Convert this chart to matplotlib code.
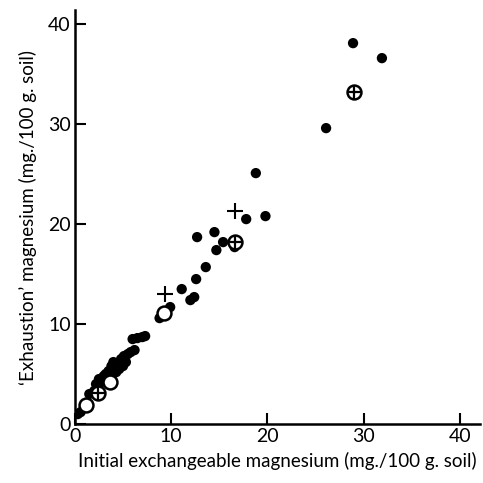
import numpy as np
import matplotlib.pyplot as plt

plt.rcParams['font.family'] = ['Lato', 'DejaVu Sans']

# filled dots (initial, exhaustion)
dot_x = [0.3, 0.6, 1.5, 2.0, 2.2, 2.5, 2.8, 3.0, 3.2, 3.5, 3.6, 3.8, 4.0, 4.2, 4.3,
         4.5, 4.8, 5.0, 5.3, 5.5, 5.8, 6.0, 6.5, 7.0, 7.3, 3.3, 4.6, 5.1, 6.2,
         8.8, 9.9, 11.1, 12.0, 12.4,
         12.6, 12.7, 13.6, 14.5, 14.7, 15.4, 16.6, 17.8, 18.8, 19.8, 26.1, 28.9, 31.9]
dot_y = [1.0, 1.2, 3.0, 3.3, 4.0, 4.5, 4.2, 4.8, 5.0, 5.3, 4.6, 5.8, 6.2, 5.6, 5.2,
         6.0, 6.5, 5.8, 6.2, 7.0, 7.2, 8.5, 8.6, 8.7, 8.8, 4.3, 5.5, 6.8, 7.4,
         10.6, 11.7, 13.5, 12.4, 12.7,
         14.5, 18.7, 15.7, 19.2, 17.4, 18.2, 17.7, 20.5, 25.1, 20.8, 29.6, 38.1, 36.6]
# open circles
open_x = [1.2, 3.6, 9.3]
open_y = [1.9, 4.2, 11.1]
# crossed circles
cross_x = [2.4, 16.6, 29.0]
cross_y = [3.1, 18.2, 33.2]
# plus signs
plus_x = [9.4, 16.6]
plus_y = [13.0, 21.3]

fig = plt.figure(figsize=(4.83, 4.83), dpi=100)
ax = fig.add_axes([0.155, 0.122, 0.839, 0.857])

ax.scatter(dot_x, dot_y, s=55, c='black', edgecolors='none', zorder=3)
ax.scatter(open_x, open_y, s=100, facecolors='white', edgecolors='black', linewidths=1.8, zorder=4)
ax.scatter(cross_x, cross_y, s=100, facecolors='white', edgecolors='black', linewidths=1.8, zorder=4)
ax.scatter(cross_x, cross_y, s=100, marker='+', c='black', linewidths=1.6, zorder=5)
ax.scatter(plus_x, plus_y, s=130, marker='+', c='black', linewidths=1.5, zorder=4)

ax.set_xlim(0, 42.1)
ax.set_ylim(0, 41.4)
ax.set_xticks([0, 10, 20, 30, 40])
ax.set_yticks([0, 10, 20, 30, 40])
ax.tick_params(direction='in', length=8, width=1.5, labelsize=14, pad=3)
for s in ['top', 'right']:
    ax.spines[s].set_visible(False)
for s in ['left', 'bottom']:
    ax.spines[s].set_linewidth(1.8)

ax.set_xlabel('Initial exchangeable magnesium (mg./100 g. soil)', fontsize=13.5, labelpad=5)
ax.set_ylabel('\u2018Exhaustion\u2019 magnesium (mg./100 g. soil)', fontsize=13.5, labelpad=8)

plt.savefig('out.png', dpi=100)
